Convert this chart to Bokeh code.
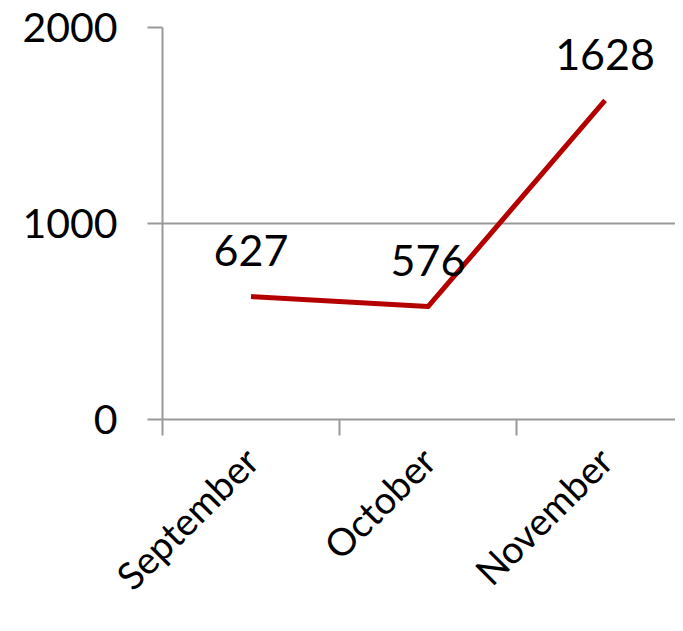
import math
from bokeh.plotting import figure
from bokeh.models import FixedTicker, Range1d
from bokeh.core.properties import value
from bokeh.embed import file_html
from bokeh.resources import INLINE

months = ["September", "October", "November"]
counts = [627, 576, 1628]
y_ticks = [0, 1000, 2000]

FONT = "Lato"
GRAY = "#9a9a9a"

xs = [i + 0.5 for i in range(len(months))]
boundaries = list(range(len(months) + 1))

p = figure(width=675, height=623, output_backend="svg", toolbar_location=None,
           x_range=Range1d(0, 2.898), y_range=Range1d(0, 2000),
           min_border_left=162, min_border_right=0, min_border_top=27,
           min_border_bottom=204)
p.outline_line_color = None
p.background_fill_color = "white"
p.border_fill_color = "white"

# y axis
ya = p.yaxis[0]
ya.ticker = FixedTicker(ticks=y_ticks)
ya.axis_line_color = GRAY
ya.axis_line_width = 2
ya.major_tick_line_color = GRAY
ya.major_tick_line_width = 2
ya.major_tick_in = 0
ya.major_tick_out = 15
ya.minor_tick_line_color = None
ya.major_label_standoff = 30
ya.major_label_text_font = FONT
ya.major_label_text_font_size = "41px"
ya.major_label_text_color = "black"

# x axis
xa = p.xaxis[0]
xa.ticker = FixedTicker(ticks=xs, minor_ticks=boundaries)
xa.major_label_overrides = {x: m for x, m in zip(xs, months)}
xa.axis_line_color = GRAY
xa.axis_line_width = 2
xa.major_tick_line_color = None
xa.major_tick_in = 0
xa.major_tick_out = 0
xa.minor_tick_line_color = GRAY
xa.minor_tick_line_width = 2
xa.minor_tick_in = 0
xa.minor_tick_out = 16
xa.major_label_orientation = math.pi / 4
xa.major_label_standoff = 18
xa.major_label_text_font = FONT
xa.major_label_text_font_size = "38px"
xa.major_label_text_color = "black"

p.xgrid.grid_line_color = None
p.ygrid.ticker = FixedTicker(ticks=y_ticks)
p.ygrid.grid_line_color = GRAY
p.ygrid.grid_line_width = 2

p.line(xs, counts, line_color="#b50000", line_width=5, line_join="round")
p.text(xs, counts, text=[str(c) for c in counts], y_offset=-46,
       text_align="center", text_baseline="middle",
       text_font=value(FONT), text_font_size="43px", text_color="black")

open("out.html", "w").write(file_html(p, INLINE))
